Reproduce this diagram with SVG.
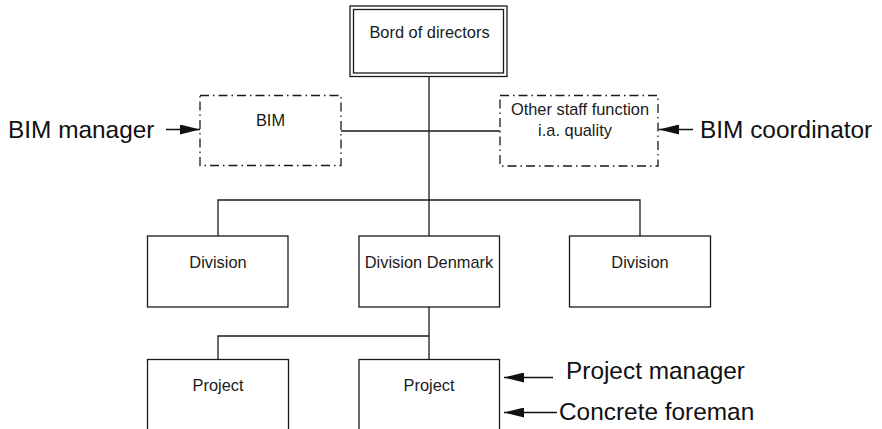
<svg xmlns="http://www.w3.org/2000/svg" width="882" height="429" viewBox="0 0 882 429">
  <style>
    .box { fill: #fff; stroke: #1a1a1a; stroke-width: 1.3; }
    .staff { fill: #fff; stroke: #1a1a1a; stroke-width: 1.3; stroke-dasharray: 9 4 1.5 4; }
    .link { fill: none; stroke: #1a1a1a; stroke-width: 1.3; }
    .ptr { fill: none; stroke: #111; stroke-width: 1.5; marker-end: url(#head); }
    .lbl { font-family: "Liberation Sans", Arial, sans-serif; font-size: 16.4px; fill: #1a1a1a; text-anchor: middle; }
    .role { font-family: "Liberation Sans", Arial, sans-serif; font-size: 24.4px; fill: #111; }
  </style>
  <defs>
    <marker id="head" viewBox="0 0 20 10" refX="20" refY="5" markerWidth="20" markerHeight="10" markerUnits="userSpaceOnUse" orient="auto">
      <path d="M0,0 L20,5 L0,10 z" fill="#111"/>
    </marker>
  </defs>
  <rect width="882" height="429" fill="#fff"/>

  <!-- connectors -->
  <g id="connectors">
    <path class="link" d="M429,76.5 V236"/>
    <path class="link" d="M341,131 H500"/>
    <path class="link" d="M218,236 V200 H640 V236"/>
    <path class="link" d="M429,307 V359.5"/>
    <path class="link" d="M218,359.5 V336 H429"/>
  </g>

  <!-- board -->
  <g id="board">
    <rect class="box" x="350" y="6" width="157" height="70.5"/>
    <rect class="box" x="353.5" y="9.5" width="150" height="63.5"/>
    <text class="lbl" x="429.5" y="38">Bord of directors</text>
  </g>

  <!-- staff functions -->
  <g id="bim">
    <rect class="staff" x="200" y="95.5" width="141" height="70"/>
    <text class="lbl" x="270.5" y="126">BIM</text>
  </g>
  <g id="other-staff">
    <rect class="staff" x="500" y="95.5" width="158" height="70.5"/>
    <text class="lbl" x="580" y="114.5">Other staff function</text>
    <text class="lbl" x="575" y="136">i.a. quality</text>
  </g>

  <!-- divisions -->
  <g id="division-left">
    <rect class="box" x="147.5" y="236" width="140.5" height="71"/>
    <text class="lbl" x="218" y="268">Division</text>
  </g>
  <g id="division-denmark">
    <rect class="box" x="359" y="236" width="140.5" height="71"/>
    <text class="lbl" x="429" y="268">Division Denmark</text>
  </g>
  <g id="division-right">
    <rect class="box" x="569.5" y="236" width="141" height="71"/>
    <text class="lbl" x="640" y="268">Division</text>
  </g>

  <!-- projects -->
  <g id="project-left">
    <rect class="box" x="147.5" y="359.5" width="141" height="90"/>
    <text class="lbl" x="218" y="390.5">Project</text>
  </g>
  <g id="project-main">
    <rect class="box" x="359" y="359.5" width="140.5" height="90"/>
    <text class="lbl" x="429" y="390.5">Project</text>
  </g>

  <!-- roles -->
  <g id="role-bim-manager">
    <text class="role" x="8" y="138">BIM manager</text>
    <path class="ptr" d="M166,129.5 H200"/>
  </g>
  <g id="role-bim-coordinator">
    <text class="role" x="700" y="138">BIM coordinator</text>
    <path class="ptr" d="M693,129.5 H659"/>
  </g>
  <g id="role-project-manager">
    <text class="role" x="566" y="378.5">Project manager</text>
    <path class="ptr" d="M553,377.5 H504"/>
  </g>
  <g id="role-concrete-foreman">
    <text class="role" x="559" y="419.5">Concrete foreman</text>
    <path class="ptr" d="M557,412.5 H504"/>
  </g>
</svg>
